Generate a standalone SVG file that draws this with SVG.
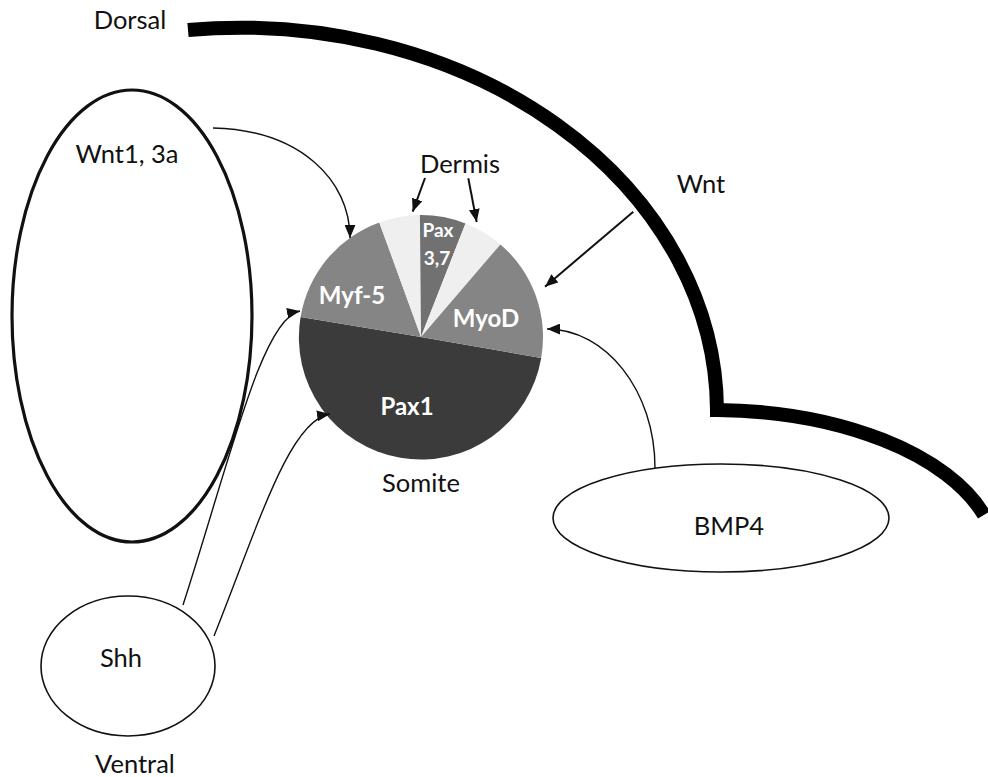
<svg xmlns="http://www.w3.org/2000/svg" width="988" height="777" viewBox="0 0 988 777">
<defs>
<style>
.lbl{font-family:Lato,"Liberation Sans",sans-serif;font-size:25.5px;fill:#111;text-anchor:middle}
.pl{font-family:Lato,"Liberation Sans",sans-serif;font-weight:700;fill:#fff;text-anchor:middle}
.node{fill:#fff;stroke:#111}
.con{fill:none;stroke:#111;stroke-width:1.4}
.con2{fill:none;stroke:#111;stroke-width:2}
</style>
<marker id="ah" viewBox="0 0 12 10" refX="12" refY="5" markerWidth="13" markerHeight="11" orient="auto" markerUnits="userSpaceOnUse"><path d="M0,0 L12,5 L0,10 z" fill="#111"/></marker>
</defs>
<rect width="988" height="777" fill="#fff"/>
<g id="boundary">
<path d="M188,30 A477,384 0 0 1 717,410 A285,150 0 0 1 984,515" fill="none" stroke="#000" stroke-width="14" stroke-linejoin="miter"/>
</g>
<g id="wnt13a"><ellipse class="node" cx="132" cy="316" rx="120" ry="226" stroke-width="3.2"/><text class="lbl" x="127" y="163">Wnt1, 3a</text></g>
<g id="shh"><ellipse class="node" cx="128" cy="666" rx="87" ry="70" stroke-width="1.6"/><text class="lbl" x="121" y="667">Shh</text></g>
<g id="bmp4"><ellipse class="node" cx="721" cy="518" rx="168" ry="54" stroke-width="1.6"/><text class="lbl" x="729" y="535">BMP4</text></g>
<g id="somite">
<path d="M421,337 L541.2,358 A122,122 0 0 1 300.6,317.1 Z" fill="#3b3b3b"/>
<path d="M421,337 L300.6,317.1 A122,122 0 0 1 379.3,222.4 Z" fill="#858585"/>
<path d="M421,337 L379.3,222.4 A122,122 0 0 1 419.9,215 Z" fill="#efefef"/>
<path d="M421,337 L419.9,215 A122,122 0 0 1 465.5,223.4 Z" fill="#717171"/>
<path d="M421,337 L465.5,223.4 A122,122 0 0 1 500.4,244.4 Z" fill="#efefef"/>
<path d="M421,337 L500.4,244.4 A122,122 0 0 1 541.2,358 Z" fill="#858585"/>
<text class="pl" x="352" y="304" font-size="24">Myf-5</text>
<text class="pl" x="486" y="327" font-size="24">MyoD</text>
<text class="pl" x="407" y="415" font-size="24">Pax1</text>
<text class="pl" x="438" y="237" font-size="19">Pax</text>
<text class="pl" x="437" y="265" font-size="19">3,7</text>
<text class="lbl" x="421" y="492">Somite</text>
</g>
<g id="labels">
<text class="lbl" x="130" y="29">Dorsal</text>
<text class="lbl" x="460" y="173">Dermis</text>
<text class="lbl" x="701" y="193">Wnt</text>
<text class="lbl" x="135" y="773">Ventral</text>
</g>
<g id="connectors">
<path class="con" d="M213,128 C300,130 350,180 350,238" marker-end="url(#ah)"/>
<path class="con" d="M183,605 C230,460 262,318 300,311" marker-end="url(#ah)"/>
<path class="con" d="M214,636 C260,520 290,420 330,414" marker-end="url(#ah)"/>
<path class="con" d="M655,468 C655,391 606,329 547,329" marker-end="url(#ah)"/>
<path class="con2" d="M425,178 L412.7,211.7" marker-end="url(#ah)"/>
<path class="con2" d="M468.3,178.3 L476.7,222" marker-end="url(#ah)"/>
<path class="con2" d="M633.3,211.7 L545,286.7" marker-end="url(#ah)"/>
</g>
</svg>
